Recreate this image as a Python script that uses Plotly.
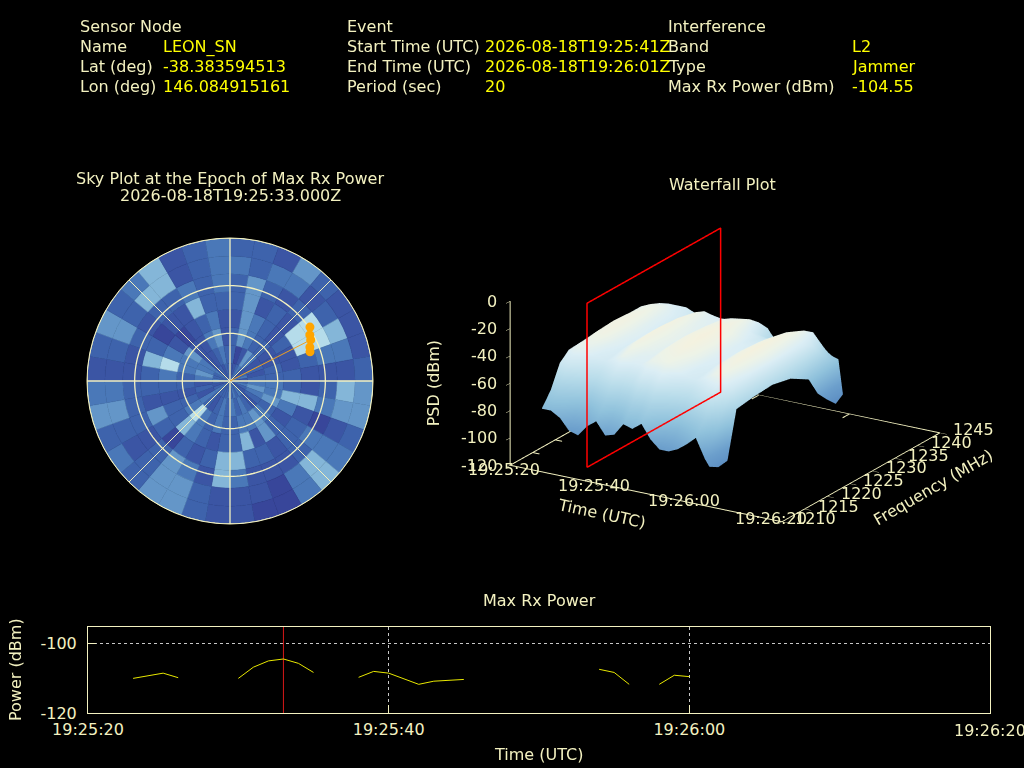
import plotly.graph_objects as go

CREAM = "#f3f1c0"
YELLOW = "#ffff00"
FONT = "DejaVu Sans"

# header block: (label, value) rows per column
sensor_labels = ["Sensor Node", "Name", "Lat (deg)", "Lon (deg)"]
sensor_values = ["", "LEON_SN", "-38.383594513", "146.084915161"]
event_labels = ["Event", "Start Time (UTC)", "End Time (UTC)", "Period (sec)"]
event_values = ["", "2026-08-18T19:25:41Z", "2026-08-18T19:26:01Z", "20"]
interf_labels = ["Interference", "Band", "Type", "Max Rx Power (dBm)"]
interf_values = ["", "L2", "Jammer", "-104.55"]

# sky plot cells, one list per elevation ring (inner to outer), 10 deg sectors from north
sky_palette = ["#38469a", "#3b55a4", "#3e63ac", "#4a78b8", "#6496c8", "#84b6d8", "#b5dcea"]
ring_0 = [1,1,2,3,2,1,2,3,1,2,3,2,1,2,3,2,3,2,3,2,2,2,2,3,2,1,2,3,2,2,3,1,2,1,2,2]
ring_1 = [2,0,1,4,3,1,2,1,2,3,4,3,2,1,2,3,2,3,2,3,2,1,2,3,1,2,1,3,4,3,3,1,1,2,3,2]
ring_2 = [2,4,3,2,2,1,1,2,2,3,3,4,2,3,4,3,3,2,2,3,2,3,6,3,2,1,2,2,3,3,4,1,1,3,4,1]
ring_3 = [1,4,3,2,1,2,1,1,2,2,5,3,1,2,4,1,5,2,2,1,2,3,5,2,2,1,2,3,6,3,1,0,1,2,3,1]
ring_4 = [2,4,1,2,1,6,6,2,1,1,5,1,2,2,1,2,2,5,5,2,1,2,0,2,4,1,2,2,5,2,0,1,1,5,2,2]
ring_5 = [2,4,2,1,2,6,6,3,1,2,3,0,3,2,1,1,1,3,5,1,3,4,2,1,2,2,2,1,1,2,1,2,2,3,2,3]
ring_6 = [3,2,3,3,1,2,5,3,1,5,4,1,3,5,3,0,1,1,1,2,4,4,2,1,2,4,3,1,2,4,2,5,5,1,2,3]
ring_7 = [2,2,1,4,2,1,1,1,2,4,4,2,3,5,3,0,0,1,1,2,4,4,2,3,2,4,3,1,2,4,2,3,5,1,2,3]
sky_rings = [ring_0, ring_1, ring_2, ring_3, ring_4, ring_5, ring_6, ring_7]
sky_circles = [30, 60, 90]
sky_spokes = [0, 45, 90, 135, 180, 225, 270, 315]

# satellite track on the sky plot
track_az = [56, 60, 63, 67, 70]
track_el = [60.7, 58, 57, 54.6, 53.6]
bore_az = [0, 63]
bore_el = [0, 56.6]

# waterfall grid
wf_times = [3,5,7,9,11,13,15,17,19,21,23,25,27,29,31,33,35,37,39,40]
wf_freqs = [1214,1216,1218,1220,1224,1228,1232,1236,1238,1240,1242,1243.6]
psd_1214 = [-84,-84,-88,-96,-98,-90,-85,-94,-92,-83,-85,-80,-90,-96,-96,-93,-88,-82,-96,-101]
psd_1216 = [-74,-72,-76,-82,-84,-78,-74,-80,-78,-72,-74,-70,-76,-82,-84,-80,-76,-72,-84,-105]
psd_1218 = [-58,-56,-60,-64,-66,-62,-58,-62,-62,-56,-58,-54,-60,-64,-66,-62,-58,-56,-68,-104]
psd_1220 = [-52,-48,-50,-54,-55,-52,-48,-52,-52,-48,-47,-46,-50,-54,-55,-52,-48,-46,-56,-70]
psd_1224 = [-51,-45,-44,-50,-53,-48,-43,-48,-50,-45,-43,-42,-46,-52,-53,-48,-44,-42,-52,-68]
psd_1228 = [-50,-44,-43,-49,-52,-47,-42,-47,-49,-44,-42,-41,-45,-51,-52,-47,-43,-41,-50,-67]
psd_1232 = [-50,-45,-44,-50,-53,-48,-43,-48,-50,-45,-43,-42,-46,-52,-53,-48,-44,-42,-52,-70]
psd_1236 = [-50,-47,-47,-51,-54,-50,-46,-50,-51,-47,-46,-45,-52,-56,-56,-52,-47,-45,-54,-78]
psd_1238 = [-53,-50,-50,-53,-55,-52,-49,-52,-52,-50,-49,-48,-58,-60,-58,-54,-50,-48,-58,-92]
psd_1240 = [-55,-54,-54,-54,-58,-58,-56,-57,-56,-55,-54,-54,-66,-64,-60,-57,-55,-53,-68,-100]
psd_1242 = [-60,-62,-62,-62,-64,-64,-64,-63,-62,-62,-62,-62,-72,-72,-70,-68,-66,-66,-76,-107]
psd_1244 = [-68,-70,-72,-72,-72,-74,-74,-72,-72,-72,-72,-74,-78,-78,-78,-76,-76,-76,-78,-103]
wf_psd = [psd_1214, psd_1216, psd_1218, psd_1220, psd_1224, psd_1228,
          psd_1232, psd_1236, psd_1238, psd_1240, psd_1242, psd_1244]
wf_colors = [[0, "#4a7ab8"], [0.31, "#6c9fcc"], [0.5, "#90c2dc"], [0.69, "#b8dcea"],
             [0.85, "#dceef5"], [0.925, "#edf3e8"], [1, "#f6f1dd"]]

# red plane marking the max power epoch
plane_t = [13, 13, 13, 13, 13]
plane_f = [1214, 1214, 1243.6, 1243.6, 1214]
plane_z = [-120, 0, 0, -120, -120]

wf_time_ticks = [0, 20, 40, 60]
wf_time_labels = ["19:25:20", "19:25:40", "19:26:00", "19:26:20"]
wf_freq_ticks = [1210, 1215, 1220, 1225, 1230, 1235, 1240, 1245]
wf_psd_ticks = [0, -20, -40, -60, -80, -100, -120]

# max rx power strip
power_x = ["2026-08-18 19:25:23", "2026-08-18 19:25:25", "2026-08-18 19:25:26", None,
           "2026-08-18 19:25:30", "2026-08-18 19:25:31", "2026-08-18 19:25:32", "2026-08-18 19:25:33",
           "2026-08-18 19:25:34", "2026-08-18 19:25:35", None,
           "2026-08-18 19:25:38", "2026-08-18 19:25:39", "2026-08-18 19:25:40", "2026-08-18 19:25:42",
           "2026-08-18 19:25:43", "2026-08-18 19:25:45", None,
           "2026-08-18 19:25:54", "2026-08-18 19:25:55", "2026-08-18 19:25:56", None,
           "2026-08-18 19:25:58", "2026-08-18 19:25:59", "2026-08-18 19:26:00"]
power_y = [-110.1, -108.6, -109.9, None,
           -110.1, -106.9, -105.1, -104.55, -105.8, -108.4, None,
           -109.8, -108.1, -108.6, -111.8, -110.9, -110.4, None,
           -107.5, -108.4, -111.8, None,
           -111.8, -109.2, -109.6]
epoch_x = ["2026-08-18 19:25:33", "2026-08-18 19:25:33"]
epoch_y = [-120, -95.4]
power_ticks = [-100, -120]
power_tick_labels = ["-100", "-120"]

fig = go.Figure()

# sky plot
for r_idx, ring in enumerate(sky_rings):
    cols = [sky_palette[v] for v in ring]
    fig.add_trace(go.Barpolar(
        r=[11.25] * 36, base=[r_idx * 11.25] * 36,
        theta=[i * 10 + 5 for i in range(36)], width=[10] * 36,
        marker=dict(color=cols, line=dict(color=cols, width=0.5)),
        hoverinfo="skip", subplot="polar", showlegend=False))
# grid has to sit over the bars
for c in sky_circles:
    fig.add_trace(go.Scatterpolar(r=[c] * 181, theta=list(range(0, 362, 2)), mode="lines",
                                  line=dict(color=CREAM, width=1.3), hoverinfo="skip",
                                  subplot="polar", showlegend=False))
for a in sky_spokes:
    fig.add_trace(go.Scatterpolar(r=[0, 90], theta=[a, a], mode="lines",
                                  line=dict(color=CREAM, width=1.3 if a % 90 == 0 else 1), hoverinfo="skip",
                                  subplot="polar", showlegend=False))
fig.add_trace(go.Scatterpolar(r=bore_el, theta=bore_az, mode="lines",
                              line=dict(color="#f0a020", width=1), subplot="polar", showlegend=False))
fig.add_trace(go.Scatterpolar(r=track_el, theta=track_az, mode="markers",
                              marker=dict(color="#ffa500", size=9), subplot="polar", showlegend=False))

# waterfall
fig.add_trace(go.Surface(x=wf_times, y=wf_freqs, z=wf_psd, colorscale=wf_colors, cmin=-120, cmax=-40,
                         showscale=False, hoverinfo="skip", scene="scene",
                         lighting=dict(ambient=1, diffuse=0, specular=0, roughness=1, fresnel=0)))
# floor edges the main axes don't cover
floor_t, floor_f = [0, 0, None, 0, 60], [1210, 1245, None, 1245, 1245]
for t in wf_time_ticks:
    floor_t += [None, t, t]
    floor_f += [None, 1245, 1243.5]
for f in wf_freq_ticks:
    floor_t += [None, 0, 1.5]
    floor_f += [None, f, f]
fig.add_trace(go.Scatter3d(x=floor_t, y=floor_f, z=[-120] * len(floor_t), mode="lines",
                           line=dict(color=CREAM, width=2), hoverinfo="skip",
                           scene="scene", showlegend=False))
fig.add_trace(go.Scatter3d(x=plane_t, y=plane_f, z=plane_z, mode="lines",
                           line=dict(color="#ff0000", width=3), hoverinfo="skip",
                           scene="scene2", showlegend=False))

# power strip
fig.add_trace(go.Scatter(x=epoch_x, y=epoch_y, mode="lines", line=dict(color="#d81818", width=1),
                         xaxis="x", yaxis="y", hoverinfo="skip", showlegend=False))
fig.add_trace(go.Scatter(x=power_x, y=power_y, mode="lines", line=dict(color="#e8e800", width=1),
                         connectgaps=False, xaxis="x", yaxis="y", showlegend=False))

# same view for both scenes
EYE = 3
camera = dict(up=dict(x=0, y=0, z=1), center=dict(x=0, y=0, z=0),
              eye=dict(x=0.488 * EYE, y=-0.803 * EYE, z=0.342 * EYE),
              projection=dict(type="orthographic"))
ASPECT = 1.89
aspect = dict(x=1.02 * ASPECT, y=0.975 * ASPECT, z=0.56 * ASPECT)
scene_domain = dict(x=[426 / 1024, 1.0], y=[1 - 532 / 768, 1 - 202 / 768])

def axis3d(rng, ticks):
    return dict(range=rng, tickvals=ticks, title=dict(text=""), showticklabels=False,
                showgrid=False, zeroline=False, showbackground=False, showspikes=False,
                showline=True, linecolor=CREAM, linewidth=2, ticks="inside", tickcolor=CREAM, ticklen=8)

def blank3d(rng):
    return dict(range=rng, visible=False)

def scene_text(x, y, z, text, dx, dy, anchor="center", angle=0):
    return dict(x=x, y=y, z=z, text=text, showarrow=False, xanchor=anchor, yanchor="middle",
                xshift=dx, yshift=dy, textangle=angle, font=dict(color=CREAM, size=16, family=FONT))

wf_labels = []
# time labels drift off the axis a little in the original
for t, s, dx, dy in zip(wf_time_ticks, wf_time_labels, [-6, -7, -7, -11], [-4, -1, 2, 3]):
    wf_labels.append(scene_text(t, 1210, -120, s, dx, dy))
for f in wf_freq_ticks:
    wf_labels.append(scene_text(60, f, -120, str(f), 34, 3))
for z in wf_psd_ticks:
    wf_labels.append(scene_text(0, 1210, z, str(z), -11, 0, anchor="right"))
wf_labels.append(scene_text(30, 1210, -120, "Time (UTC)", -45, -20, angle=12))
wf_labels.append(scene_text(60, 1227.5, -120, "Frequency (MHz)", 72, -10, angle=-30))
wf_labels.append(scene_text(0, 1210, -60, "PSD (dBm)", -77, 0, angle=-90))

fig.update_layout(
    width=1024, height=768, autosize=False, margin=dict(l=0, r=0, t=0, b=0),
    paper_bgcolor="black", plot_bgcolor="black", showlegend=False,
    font=dict(family=FONT, color=CREAM, size=16),
    polar=dict(
        domain=dict(x=[87 / 1024, 373 / 1024], y=[1 - 524 / 768, 1 - 238 / 768]),
        bgcolor="black", bargap=0,
        radialaxis=dict(range=[0, 90], showticklabels=False, ticks="", showgrid=False, showline=False),
        angularaxis=dict(rotation=90, direction="clockwise", showticklabels=False, ticks="", showgrid=False,
                         linecolor=CREAM, linewidth=1),
    ),
    scene=dict(
        domain=scene_domain, bgcolor="black", camera=camera, aspectmode="manual", aspectratio=aspect,
        xaxis=axis3d([0, 60], wf_time_ticks),
        yaxis=axis3d([1210, 1245], wf_freq_ticks),
        zaxis=axis3d([-120, 0], wf_psd_ticks),
        annotations=wf_labels,
    ),
    scene2=dict(
        domain=scene_domain, bgcolor="rgba(0,0,0,0)", camera=camera, aspectmode="manual", aspectratio=aspect,
        xaxis=blank3d([0, 60]), yaxis=blank3d([1210, 1245]), zaxis=blank3d([-120, 0]),
    ),
    xaxis=dict(domain=[88 / 1024, 990 / 1024], anchor="y", type="date", automargin=False,
               range=["2026-08-18 19:25:20", "2026-08-18 19:26:20"], dtick=20000, tick0="2026-08-18 19:25:20",
               tickformat="%H:%M:%S", ticks="inside", ticklen=8, tickcolor=CREAM, ticklabelstandoff=2,
               showline=True, linecolor=CREAM, mirror=True, linewidth=1,
               showgrid=True, gridcolor="#c8c8c8", griddash="dot", gridwidth=1, zeroline=False,
               tickfont=dict(size=16)),
    yaxis=dict(domain=[1 - 713 / 768, 1 - 627 / 768], anchor="x", range=[-120, -95.4], automargin=False,
               tickvals=power_ticks, ticktext=power_tick_labels, ticklabelstandoff=7,
               ticks="inside", ticklen=8, tickcolor=CREAM,
               showline=True, linecolor=CREAM, mirror=True, linewidth=1,
               showgrid=True, gridcolor="#c8c8c8", griddash="dot", gridwidth=1, zeroline=False,
               tickfont=dict(size=16)),
)

def label(x_px, y_px, text, color=CREAM, anchor="left", angle=0):
    fig.add_annotation(x=x_px / 1024, y=1 - y_px / 768, xref="paper", yref="paper", text=text, showarrow=False,
                       xanchor=anchor, yanchor="middle", textangle=angle,
                       font=dict(color=color, size=16, family=FONT))

for col_x, val_x, labels, values in [(78, 161, sensor_labels, sensor_values),
                                     (345, 483, event_labels, event_values),
                                     (666, 850, interf_labels, interf_values)]:
    for i, (lab, val) in enumerate(zip(labels, values)):
        label(col_x, 26.5 + i * 20, lab)
        if val:
            label(val_x, 26.5 + i * 20, val, YELLOW)

label(230, 178, "Sky Plot at the Epoch of Max Rx Power", anchor="center")
label(230, 196, "2026-08-18T19:25:33.000Z", anchor="center")
label(722, 185, "Waterfall Plot", anchor="center")
label(539, 600, "Max Rx Power", anchor="center")
label(538, 754, "Time (UTC)", anchor="center")
label(15, 670, "Power (dBm)", anchor="center", angle=-90)
# plotly drops this last tick label because it runs off the page
label(990, 730, wf_time_labels[-1], anchor="center")

fig.write_html("out.html", config={"displayModeBar": False},
               post_script="document.body.style.margin='0';document.body.style.background='black';")
